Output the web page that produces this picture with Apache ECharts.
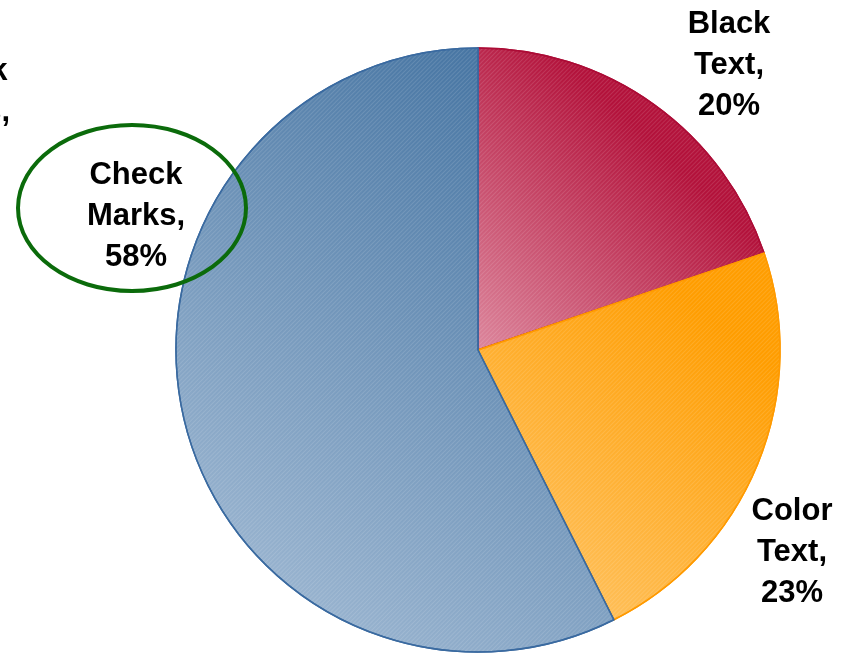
<!DOCTYPE html>
<html>
<head>
<meta charset="utf-8">
<script src="https://cdn.jsdelivr.net/npm/echarts@6/dist/echarts.min.js"></script>
<style>html,body{margin:0;padding:0;background:#fff}#c{width:844px;height:654px}</style>
</head>
<body>
<div id="c"></div>
<script>
var categories = ['Black Text', 'Color Text', 'Check Marks'];
var values = [20, 23, 58];

var FONT = '"Liberation Sans", Arial, sans-serif';
var chart = echarts.init(document.getElementById('c'));
var grad = function (dark, light, hold) {
  return new echarts.graphic.LinearGradient(1, 0, 0, 1, [
    { offset: 0, color: dark }, { offset: hold, color: dark }, { offset: 1, color: light }
  ]);
};
var styles = [
  { fill: grad('#b3123b', '#dc869c', 0.35), border: '#ac0c36' },
  { fill: grad('#ff9d00', '#ffc870', 0.2), border: '#ff9a00' },
  { fill: grad('#40709f', '#a9c0d8', 0.05), border: '#3a6aa0' }
];
var labelPos = [[729, 65], [792, 552], [136, 216]];
var decal = {
  symbol: 'rect', symbolSize: 1, dashArrayX: [1, 0], dashArrayY: [1, 2],
  rotation: -Math.PI / 4, color: 'rgba(255,255,255,0.12)'
};
var data = categories.map(function (c, i) {
  return {
    name: c, value: values[i],
    itemStyle: { color: styles[i].fill, borderColor: styles[i].border, borderWidth: 1.5, decal: decal }
  };
});

chart.setOption({
  animation: false,
  aria: { enabled: true, decal: { show: true } },
  series: [{
    type: 'pie',
    center: [478, 350],
    radius: 302,
    startAngle: 90,
    clockwise: true,
    data: data,
    label: {
      show: true,
      position: 'outside',
      formatter: function (p) { return p.name.replace(' ', '\n') + ',\n' + p.value + '%'; },
      fontFamily: FONT,
      fontWeight: 'bold',
      fontSize: 31,
      lineHeight: 41,
      color: '#000',
      align: 'center',
      verticalAlign: 'middle',
      overflow: 'none',
      width: 200
    },
    labelLine: { show: false },
    labelLayout: function (p) {
      return { x: labelPos[p.dataIndex][0], y: labelPos[p.dataIndex][1], align: 'center', verticalAlign: 'middle' };
    },
    emphasis: { disabled: true }
  }],
  graphic: [
    {
      type: 'text', x: -39, y: 112, z: 10,
      style: {
        text: 'Check\nMarks,\n58%', fill: '#000', align: 'center', verticalAlign: 'middle',
        font: 'bold 31px ' + FONT, lineHeight: 41
      }
    },
    {
      type: 'ellipse', z: 10,
      shape: { cx: 132, cy: 208, rx: 114, ry: 83 },
      style: { fill: 'none', stroke: '#0b6b0b', lineWidth: 4 }
    }
  ]
});
</script>
</body>
</html>
